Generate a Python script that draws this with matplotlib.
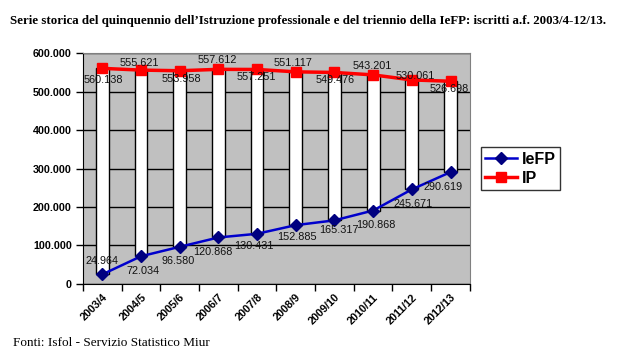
import matplotlib
matplotlib.use("Agg")
import matplotlib.pyplot as plt
import matplotlib.transforms as mtransforms
import numpy as np
from matplotlib.ticker import FuncFormatter

# data
years = ["2003/4", "2004/5", "2005/6", "2006/7", "2007/8",
         "2008/9", "2009/10", "2010/11", "2011/12", "2012/13"]
iefp = [24964, 72034, 96580, 120868, 130431, 152885, 165317, 190868, 245671, 290619]
ip = [560138, 555621, 553958, 557612, 557251, 551117, 549476, 543201, 530061, 526698]

# label offsets in pixels (dx, dy)
ip_off = [(1, -12), (-2, 7), (2, -8), (-1, 9), (-1, -8),
          (-3, 9), (1, -8), (-1, 9), (3, 4), (-1, -8)]
iefp_off = [(0, 13), (2, -15), (-2, -14), (-6, -15), (-3, -12),
            (1, -12), (4, -10), (3, -14), (1, -15), (-7, -15)]


def thousands(v, pos):
    return f"{int(v):,}".replace(",", ".")


fig = plt.figure(figsize=(6.17, 3.57), dpi=100)
ax = fig.add_axes([0.1345, 0.2045, 0.627, 0.647])

x = np.arange(len(years))
ax.set_facecolor("#C0C0C0")
ax.set_axisbelow(True)
ax.yaxis.grid(True, color="black", linewidth=1)

# up-down bars between the two series
ax.bar(x, np.array(ip) - np.array(iefp), bottom=iefp, width=0.33,
       color="white", edgecolor="black", linewidth=1, zorder=2)

ax.plot(x, iefp, color="#0000CC", linewidth=1.8, marker="D", markersize=6.5,
        markerfacecolor="#000080", markeredgecolor="#000080", label="IeFP", zorder=3)
ax.plot(x, ip, color="#FF0000", linewidth=2.5, marker="s", markersize=6.5,
        markerfacecolor="#FF0000", markeredgecolor="#FF0000", label="IP", zorder=3)

for xi, v, (dx, dy) in zip(x, ip, ip_off):
    ax.annotate(thousands(v, None), (xi, v), xytext=(dx, dy), textcoords="offset pixels",
                ha="center", va="center", fontsize=7.8, family="Liberation Sans",
                color="#111111", zorder=4)
for xi, v, (dx, dy) in zip(x, iefp, iefp_off):
    ax.annotate(thousands(v, None), (xi, v), xytext=(dx, dy), textcoords="offset pixels",
                ha="center", va="center", fontsize=7.8, family="Liberation Sans",
                color="#111111", zorder=4)

ax.set_xlim(-0.5, len(years) - 0.5)
ax.set_ylim(0, 600000)
ax.set_yticks(np.arange(0, 600001, 100000))
ax.yaxis.set_major_formatter(FuncFormatter(thousands))

# category ticks sit between the bands, labels at the centres
ax.set_xticks(np.arange(-0.5, len(years), 1.0))
ax.set_xticklabels([])
ax.set_xticks(x, minor=True)
ax.set_xticklabels(years, minor=True, rotation=45, ha="right", va="top",
                   rotation_mode="anchor", fontsize=7.8, fontweight="bold",
                   family="Liberation Sans")
shift = mtransforms.ScaledTranslation(-6 / 100, 0, fig.dpi_scale_trans)
for lab in ax.get_xticklabels(minor=True):
    lab.set_transform(lab.get_transform() + shift)
ax.tick_params(axis="x", which="minor", length=0, pad=6)
ax.tick_params(axis="x", which="major", length=5, width=1, direction="out")
ax.tick_params(axis="y", length=5, width=1, direction="out", pad=3)
for lab in ax.get_yticklabels():
    lab.set_fontweight("bold")
    lab.set_family("Liberation Sans")
    lab.set_fontsize(7.7)

for s in ["top", "right"]:
    ax.spines[s].set_color("#808080")
for s in ["left", "bottom"]:
    ax.spines[s].set_color("black")

leg = ax.legend(loc="center left", bbox_to_anchor=(1.028, 0.5), frameon=True,
                fancybox=False, edgecolor="black", handlelength=2.0,
                borderpad=0.3, labelspacing=0.25, handletextpad=0.25,
                borderaxespad=0,
                prop={"family": "Liberation Sans", "weight": "bold", "size": 11.5})
leg.get_frame().set_linewidth(1)

fig.text(0.5, 0.94, "Serie storica del quinquennio dell\u2019Istruzione professionale e del triennio della IeFP: iscritti a.f. 2003/4-12/13.",
         ha="center", va="center", fontsize=9.3, fontweight="bold", family="Liberation Serif")
fig.text(0.021, 0.04, "Fonti: Isfol - Servizio Statistico Miur",
         ha="left", va="center", fontsize=9.5, family="Liberation Serif")

fig.savefig("out.png", dpi=100)
